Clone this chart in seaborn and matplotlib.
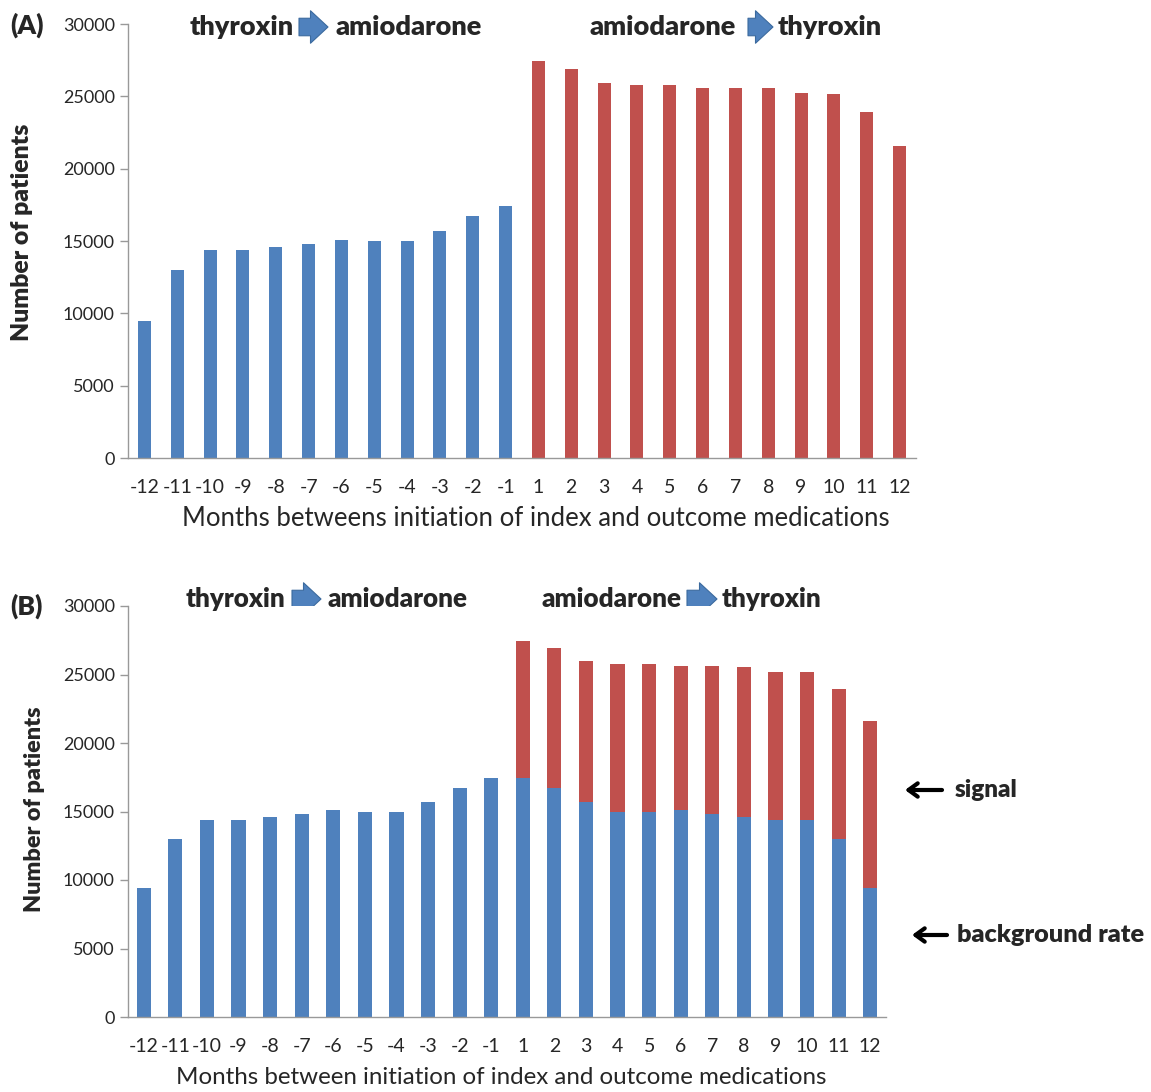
import numpy as np
import pandas as pd
import seaborn as sns
import matplotlib.pyplot as plt

# values
months = [-12, -11, -10, -9, -8, -7, -6, -5, -4, -3, -2, -1,
          1, 2, 3, 4, 5, 6, 7, 8, 9, 10, 11, 12]
thy_amio = [9450, 13000, 14350, 14350, 14600, 14800, 15100, 15000, 15000, 15700, 16750, 17450]
amio_thy = [27450, 26900, 25950, 25800, 25750, 25600, 25600, 25550, 25200, 25150, 23950, 21600]
# background for panel B = the mirrored thyroxin->amiodarone counts
background = thy_amio[::-1]

BLUE = '#4F81BD'
RED = '#C0504D'
W, H = 1151, 1092

sns.set_theme(style='white')
plt.rcParams['font.family'] = ['Lato', 'DejaVu Sans']

labels = [str(m) for m in months]
df_a = pd.DataFrame({
    'month': labels,
    'patients': thy_amio + amio_thy,
    'group': ['before'] * 12 + ['after'] * 12,
})
df_b = pd.DataFrame({
    'month': labels,
    'total': thy_amio + amio_thy,
    'background': thy_amio + background,
})

fig = plt.figure(figsize=(W / 100, H / 100), dpi=100)
ax_a = fig.add_axes([128 / W, 1 - 458 / H, 788 / W, 434 / H])
ax_b = fig.add_axes([128 / W, 1 - 1017 / H, 758 / W, 411 / H])

sns.barplot(data=df_a, x='month', y='patients', hue='group', order=labels,
            palette={'before': BLUE, 'after': RED}, dodge=False, width=0.4,
            saturation=1, legend=False, ax=ax_a)

sns.barplot(data=df_b, x='month', y='total', order=labels, color=RED,
            width=0.45, saturation=1, ax=ax_b)
sns.barplot(data=df_b, x='month', y='background', order=labels, color=BLUE,
            width=0.45, saturation=1, ax=ax_b)

panels = [
    (ax_a, 'Months betweens initiation of index and outcome medications', 18.5, 17.8),
    (ax_b, 'Months between initiation of index and outcome medications', 17.4, 16.8),
]
for ax, xlab, xsize, ysize in panels:
    ax.set_ylim(0, 30000)
    ax.set_xlim(-0.5, 23.5)
    ax.set_yticks(np.arange(0, 30001, 5000))
    ax.set_xticks(np.arange(-0.5, 24, 1), minor=True)
    ax.tick_params(axis='x', which='major', length=0, labelsize=14, pad=15)
    ax.tick_params(axis='x', which='minor', length=6, color='#999999', width=1)
    ax.tick_params(axis='y', length=6, color='#999999', width=1, labelsize=13, left=True)
    for s in ['top', 'right']:
        ax.spines[s].set_visible(False)
    for s in ['left', 'bottom']:
        ax.spines[s].set_color('#999999')
        ax.spines[s].set_linewidth(1)
    ax.set_ylabel('Number of patients', fontsize=ysize, fontweight='heavy')
    ax.set_xlabel(xlab, fontsize=xsize)
    for bar in ax.patches:
        bar.set_edgecolor('none')

ax_a.yaxis.set_label_coords(-0.12, 0.521)
ax_b.yaxis.set_label_coords(-0.11, 0.506)
ax_a.xaxis.set_label_coords(0.518, -0.111)
ax_b.xaxis.set_label_coords(0.493, -0.122)


def label_pair(x1, a0, a1, x2, y, t1, t2, size):
    fig.text(x1 / W, 1 - y / H, t1, fontsize=size, fontweight='heavy', va='center', ha='left')
    fig.text(x2 / W, 1 - y / H, t2, fontsize=size, fontweight='heavy', va='center', ha='left')
    ax_a.annotate('', xy=(a1 / W, 1 - y / H), xytext=(a0 / W, 1 - y / H),
                  xycoords='figure fraction', textcoords='figure fraction',
                  arrowprops=dict(arrowstyle='simple,head_width=1.3,head_length=0.7,tail_width=0.7',
                                  fc=BLUE, ec='#3B6A9E', lw=0.8, mutation_scale=18,
                                  shrinkA=0, shrinkB=0),
                  annotation_clip=False)


label_pair(190, 299, 328, 336, 27, 'thyroxin', 'amiodarone', 19.5)
label_pair(590, 748, 773, 778, 27, 'amiodarone', 'thyroxin', 19.5)
label_pair(186, 292, 321, 328, 599, 'thyroxin', 'amiodarone', 18.7)
label_pair(542, 687, 717, 722, 599, 'amiodarone', 'thyroxin', 18.7)

fig.text(10 / W, 1 - 25 / H, '(A)', fontsize=19, fontweight='heavy', va='center')
fig.text(10 / W, 1 - 606 / H, '(B)', fontsize=19, fontweight='heavy', va='center')

# signal / background rate pointers
for x0, x1, y, x_t, txt, size in [(942, 905, 790, 955, 'signal', 17.5),
                                  (947, 912, 935, 957, 'background rate', 18.2)]:
    ax_b.annotate('', xy=(x1 / W, 1 - y / H), xytext=(x0 / W, 1 - y / H),
                  xycoords='figure fraction', textcoords='figure fraction',
                  arrowprops=dict(arrowstyle='->,head_width=0.4,head_length=0.55',
                                  color='black', lw=3, shrinkA=0, shrinkB=0),
                  annotation_clip=False)
    fig.text(x_t / W, 1 - y / H, txt, fontsize=size, fontweight='heavy', va='center', ha='left')

fig.savefig('out.png', dpi=100, facecolor='white')
